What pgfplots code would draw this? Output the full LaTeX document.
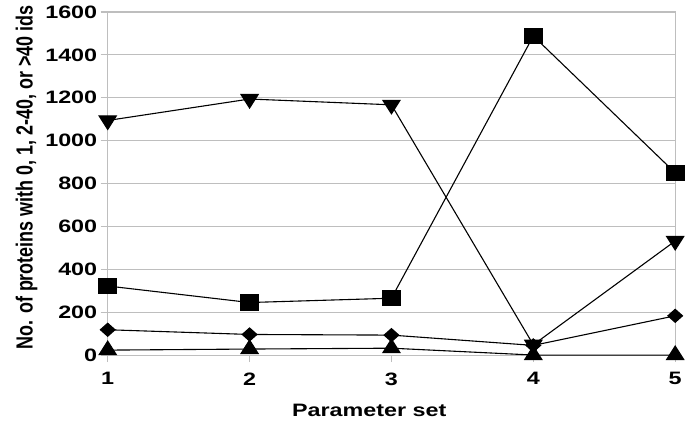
\documentclass[border=0pt]{standalone}
\usepackage{graphicx}
\usepackage{fontspec}
\setmainfont{Liberation Sans}
\usepackage{pgfplots}
\pgfplotsset{compat=1.18}

\definecolor{gridgray}{RGB}{190,190,190}
% the reference text is stretched horizontally by about 1.3
\newcommand{\wide}[1]{\scalebox{1.3}[1]{#1}}

\begin{document}
\begin{tikzpicture}[x=1pt,y=1pt]
  % page frame: 685 x 426
  \path (-108,-70) rectangle (577,356);
  \begin{axis}[
      at={(0,0)}, anchor=origin,
      scale only axis,
      width=569pt, height=344pt,
      xmin=1, xmax=5,
      ymin=0, ymax=1600,
      xtick={1,2,3,4,5},
      ytick={0,200,...,1600},
      xticklabel={\wide{\pgfmathprintnumber[assume math mode=true,fixed,precision=0]{\tick}}},
      yticklabel={\wide{\pgfmathprintnumber[assume math mode=true,fixed,precision=0,1000 sep={}]{\tick}}},
      clip=false,
      ymajorgrids,
      grid style={gridgray, line width=1.1pt},
      axis line style={gridgray, line width=1.1pt},
      tick style={gridgray, line width=1.1pt},
      tick align=outside,
      major tick length=7pt,
      xtick pos=bottom, ytick pos=left,
      tick label style={font=\bfseries\fontsize{18}{20}\selectfont},
      xticklabel style={yshift=-7pt},
      xlabel={\wide{Parameter set}},
      xlabel style={font=\bfseries\fontsize{18}{20}\selectfont,
        at={(axis description cs:0.461,0)}, anchor=base, yshift=-62pt},
      ylabel={\scalebox{1}[1.3]{\bfseries\fontsize{18}{20}\selectfont No. of proteins with 0, 1, 2-40, or >40 ids}},
      ylabel style={at={(axis description cs:-0.143,0.518)}, anchor=center, rotate=0},
      every axis plot/.append style={black, line width=1.1pt},
    ]
    % >40 ids
    \addplot[mark=square*, mark size=7.5pt, mark options={xscale=1.2}] coordinates {
      (1,322) (2,245) (3,265) (4,1488) (5,850)
    };
    % 2-40 ids
    \addplot[mark=triangle*, mark size=9pt, mark options={rotate=180, xscale=1.1}] coordinates {
      (1,1094) (2,1194) (3,1167) (4,48) (5,532)
    };
    % 1 id
    \addplot[mark=diamond*, mark size=6.5pt, mark options={xscale=1.5}] coordinates {
      (1,118) (2,96) (3,93) (4,45) (5,183)
    };
    % 0 ids
    \addplot[mark=triangle*, mark size=9pt, mark options={xscale=1.1}] coordinates {
      (1,23) (2,28) (3,32) (4,0) (5,0)
    };
  \end{axis}
\end{tikzpicture}
\end{document}
